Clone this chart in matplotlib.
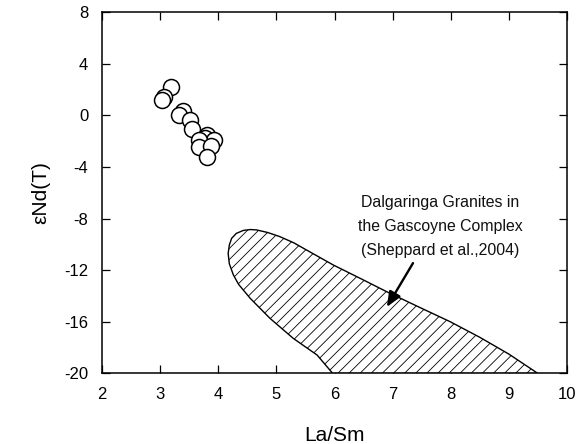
import matplotlib
matplotlib.use("Agg")
import matplotlib.pyplot as plt
from matplotlib.patches import Polygon

plt.rcParams['font.family'] = ['Liberation Sans', 'DejaVu Sans']
plt.rcParams['hatch.linewidth'] = 0.6
plt.rcParams['axes.unicode_minus'] = False

# Sample data: La/Sm vs epsilon Nd(T)
la_sm = [3.18, 3.07, 3.04, 3.40, 3.33, 3.51, 3.54, 3.80, 3.77, 3.92, 3.67, 3.66, 3.87, 3.81]
eps_nd = [2.17, 1.44, 1.18, 0.36, 0.02, -0.37, -1.09, -1.53, -1.78, -1.92, -1.92, -2.48, -2.38, -3.20]

# Outline of the Dalgaringa Granites field (Sheppard et al., 2004)
field_x = [5.97, 5.70, 5.29, 4.89, 4.55, 4.35, 4.26, 4.19, 4.17, 4.19, 4.23, 4.31, 4.43,
           4.55, 4.66, 4.85, 5.06, 5.30, 5.52, 5.75, 5.98, 6.45, 6.90, 7.45, 7.99, 8.50,
           9.00, 9.30, 9.50]
field_y = [-20.0, -18.57, -17.28, -15.73, -14.18, -13.10, -12.37, -11.50, -10.70, -10.05,
           -9.53, -9.15, -8.92, -8.85, -8.88, -9.08, -9.40, -9.88, -10.44, -11.02, -11.60,
           -12.65, -13.67, -14.85, -15.99, -17.20, -18.50, -19.40, -20.0]

field_label = "Dalgaringa Granites in\nthe Gascoyne Complex\n(Sheppard et al.,2004)"
label_xy = (7.82, -11.05)
arrow_tail = (7.35, -11.45)
arrow_head = (6.90, -14.85)

x_ticks = [2, 3, 4, 5, 6, 7, 8, 9, 10]
y_ticks = [-20, -16, -12, -8, -4, 0, 4, 8]

fig = plt.figure(figsize=(5.87, 4.44), dpi=100)
ax = fig.add_axes([0.1738, 0.1588, 0.7922, 0.8142])

field = Polygon(list(zip(field_x, field_y)), closed=True, facecolor='white',
                edgecolor='black', linewidth=1.0, hatch='///', zorder=2)
ax.add_patch(field)

ax.plot(la_sm, eps_nd, linestyle='none', marker='o', markersize=11.5,
        markerfacecolor='white', markeredgecolor='black', markeredgewidth=1.1, zorder=3)

ax.text(label_xy[0], label_xy[1], field_label, ha='center', va='bottom',
        fontsize=11.4, linespacing=1.75, color='#111111')
ax.annotate('', xy=arrow_head, xytext=arrow_tail,
            arrowprops=dict(arrowstyle='-|>,head_length=0.9,head_width=0.38',
                            color='black', lw=1.7, shrinkA=0, shrinkB=0), zorder=4)

ax.set_xlim(2, 10)
ax.set_ylim(-20, 8)
ax.set_xticks(x_ticks)
ax.set_yticks(y_ticks)
ax.tick_params(direction='in', length=6, width=0.9, labelsize=12,
               top=True, right=True)
ax.tick_params(axis='x', pad=10)
ax.tick_params(axis='y', pad=10)
for s in ax.spines.values():
    s.set_linewidth(1.1)

ax.set_xlabel('La/Sm', fontsize=15, labelpad=17)
ax.set_ylabel('εNd(T)', fontsize=15, labelpad=10)

fig.savefig('out.png', dpi=100)
